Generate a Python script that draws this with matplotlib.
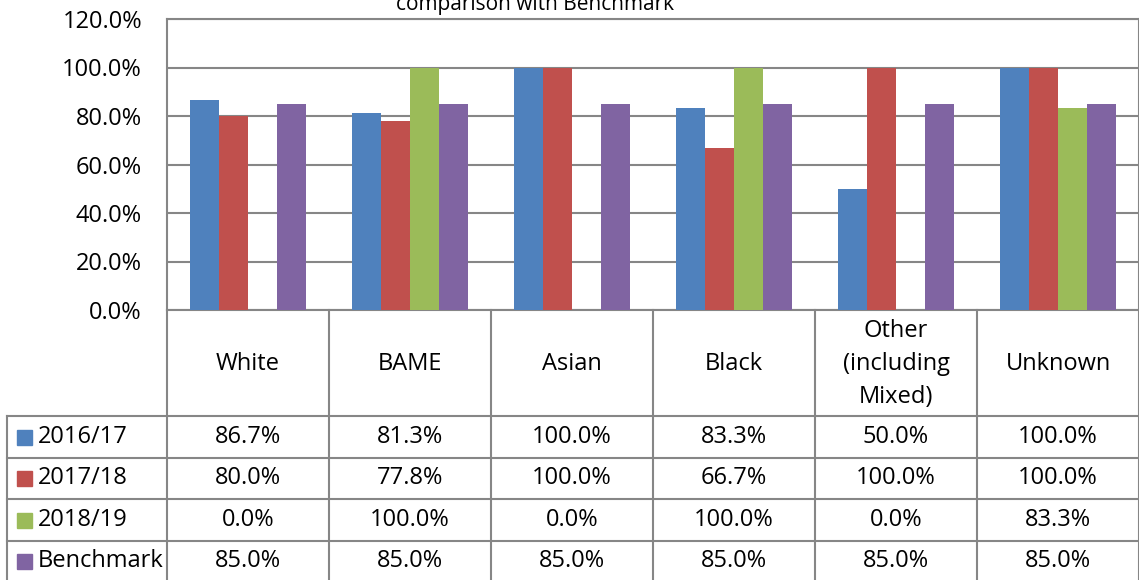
import matplotlib.pyplot as plt
import numpy as np

plt.rcParams['font.family'] = ['Open Sans', 'DejaVu Sans']

categories = ["White", "BAME", "Asian", "Black", "Other\n(including\nMixed)", "Unknown"]
series_names = ["2016/17", "2017/18", "2018/19", "Benchmark"]
v2016 = [86.7, 81.3, 100.0, 83.3, 50.0, 100.0]
v2017 = [80.0, 77.8, 100.0, 66.7, 100.0, 100.0]
v2018 = [0.0, 100.0, 0.0, 100.0, 0.0, 83.3]
bench = [85.0, 85.0, 85.0, 85.0, 85.0, 85.0]
colors = ["#4F81BD", "#C0504D", "#9BBB59", "#8064A2"]
title = "comparison with Benchmark"

W, H = 1139, 580
fig = plt.figure(figsize=(W / 100, H / 100), dpi=100)
grid_c = "#868686"
fs = 17

# pixel layout
left, right, top, bottom = 167, 1139, 19, 310
ax = fig.add_axes([left / W, 1 - bottom / H, (right - left) / W, (bottom - top) / H])

all_vals = [v2016, v2017, v2018, bench]
x = np.arange(len(categories))
bw = 0.18
for i, (vals, c) in enumerate(zip(all_vals, colors)):
    ax.bar(x + (i - 1.5) * bw, vals, bw, color=c, zorder=3)

ax.set_xlim(-0.5, len(categories) - 0.5)
ax.set_ylim(0, 120)
ax.set_yticks(range(0, 121, 20))
ax.set_yticklabels(["%.1f%%" % t for t in range(0, 121, 20)], fontsize=fs)
ax.tick_params(axis='y', length=0, pad=18)
ax.set_xticks([])
ax.grid(axis='y', color=grid_c, linewidth=1.5, zorder=0)
for s in ax.spines.values():
    s.set_color(grid_c)
    s.set_linewidth(1.5)

# title, partly cut off at top like the reference
fig.text(535 / W, 1 - 10 / H, title, ha='center', va='baseline', fontsize=15)

# data table drawn in pixel coordinates
tax = fig.add_axes([0, 0, 1, 1])
tax.set_xlim(0, W)
tax.set_ylim(H, 0)
tax.axis('off')

colw = (right - left) / len(categories)
rows_y = [416, 457.5, 499, 540.5, 582]
lw = 1.5
# vertical lines
for j in range(len(categories) + 1):
    xx = left + j * colw
    tax.plot([xx, xx], [bottom, rows_y[-1]], color=grid_c, lw=lw)
tax.plot([7, 7], [rows_y[0], rows_y[-1]], color=grid_c, lw=lw)
# horizontal lines
for yy in rows_y:
    tax.plot([7, right], [yy, yy], color=grid_c, lw=lw)

for j, cat in enumerate(categories):
    tax.text(left + (j + 0.5) * colw, (bottom + rows_y[0]) / 2 + 1, cat,
             ha='center', va='center', fontsize=fs, linespacing=1.5)

for r, (name, vals, c) in enumerate(zip(series_names, all_vals, colors)):
    yc = (rows_y[r] + rows_y[r + 1]) / 2
    tax.add_patch(plt.Rectangle((17, yc - 7), 15, 15, color=c))
    tax.text(38, yc, name, ha='left', va='center', fontsize=fs)
    for j, v in enumerate(vals):
        tax.text(left + (j + 0.5) * colw, yc, "%.1f%%" % v, ha='center', va='center', fontsize=fs)

fig.savefig("out.png", dpi=100)
